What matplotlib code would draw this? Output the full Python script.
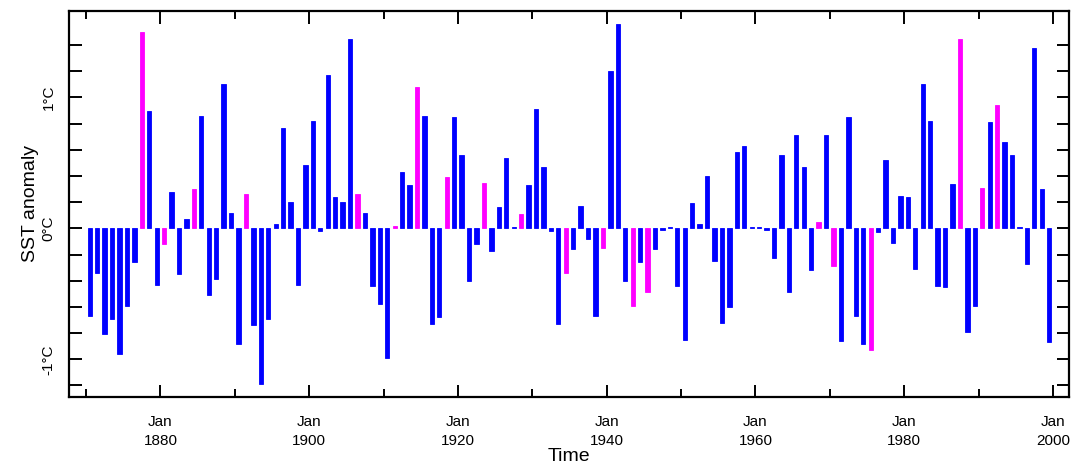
import matplotlib
matplotlib.use("Agg")
import matplotlib.pyplot as plt
import numpy as np

BLUE = "#0000FF"
MAGENTA = "#FF00FF"

years = list(range(1870, 2000))
sst_anom = [
    -0.67, -0.34, -0.81, -0.69, -0.96, -0.59, -0.26, 1.50, 0.90, -0.43,
    -0.12, 0.28, -0.35, 0.07, 0.30, 0.86, -0.51, -0.39, 1.10, 0.12,
    -0.88, 0.26, -0.74, -1.19, -0.69, 0.03, 0.77, 0.20, -0.43, 0.48,
    0.82, -0.02, 1.17, 0.24, 0.20, 1.45, 0.26, 0.12, -0.44, -0.58,
    -0.99, 0.02, 0.43, 0.33, 1.08, 0.86, -0.73, -0.68, 0.39, 0.85,
    0.56, -0.40, -0.12, 0.35, -0.17, 0.16, 0.54, 0.01, 0.11, 0.33,
    0.91, 0.47, -0.02, -0.73, -0.34, -0.16, 0.17, -0.08, -0.67, -0.15,
    1.20, 1.56, -0.40, -0.59, -0.26, -0.49, -0.16, -0.01, 0.01, -0.44,
    -0.85, 0.19, 0.03, 0.40, -0.25, -0.72, -0.60, 0.58, 0.63, 0.01,
    0.01, -0.01, -0.23, 0.56, -0.49, 0.71, 0.47, -0.32, 0.05, 0.71,
    -0.29, -0.86, 0.85, -0.67, -0.88, -0.93, -0.03, 0.52, -0.11, 0.25,
    0.24, -0.31, 1.10, 0.82, -0.44, -0.45, 0.34, 1.45, -0.79, -0.59,
    0.31, 0.81, 0.94, 0.66, 0.56, 0.01, -0.27, 1.38, 0.30, -0.87,
]
el_nino_years = [1877, 1880, 1884, 1891, 1906, 1911, 1914, 1918, 1923, 1928,
                 1934, 1939, 1943, 1945, 1968, 1970, 1975, 1987, 1990, 1992]

label_years = [1880, 1900, 1920, 1940, 1960, 1980, 2000]
minor_years = [1870, 1890, 1910, 1930, 1950, 1970, 1990]

plt.rcParams["font.family"] = ["Liberation Sans", "DejaVu Sans"]

fig = plt.figure(figsize=(10.78, 4.65), dpi=100)
ax = fig.add_axes([0.0643, 0.1469, 0.9276, 0.8294])

x = np.array(years) + 0.5
cols = [MAGENTA if y in el_nino_years else BLUE for y in years]
ax.bar(x, sst_anom, width=0.58, color=cols, edgecolor=cols, linewidth=0.6)

ax.set_xlim(1867.75, 2002.2)
ax.set_ylim(-1.286, 1.66)

ax.set_xticks(label_years)
ax.set_xticklabels([f"Jan\n{y}" for y in label_years], fontsize=11, linespacing=1.45)
ax.set_xticks(minor_years, minor=True)
ax.tick_params(axis="x", which="major", direction="in", length=9, width=1.4,
               top=True, pad=13)
ax.tick_params(axis="x", which="minor", direction="in", length=6, width=1.4,
               top=True)

yt = np.round(np.arange(-1.2, 1.41, 0.2), 1)
ax.set_yticks(yt)
ax.set_yticklabels(["-1°C" if v == -1.0 else "0°C" if v == 0.0
                    else "1°C" if v == 1.0 else "" for v in yt],
                   rotation=90, va="center", fontsize=11)
ax.tick_params(axis="y", direction="in", length=9, width=1.4, right=True, pad=10)

ax.set_xlabel("Time", fontsize=14, labelpad=0.5)
ax.set_ylabel("SST anomaly", fontsize=14, labelpad=2)

for sp in ax.spines.values():
    sp.set_linewidth(1.6)

fig.savefig("out.png", dpi=100)
